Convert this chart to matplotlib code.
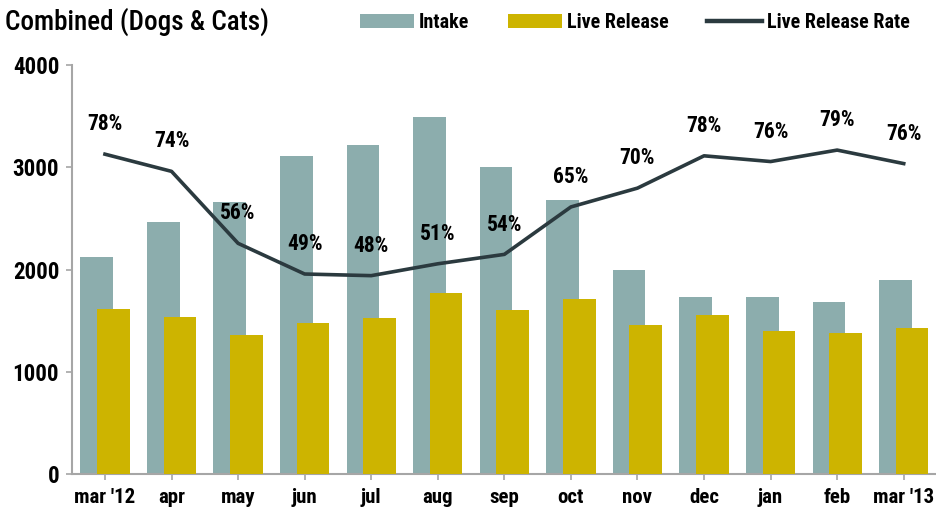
import numpy as np
import matplotlib
matplotlib.use('Agg')
import matplotlib.pyplot as plt
from matplotlib import font_manager

# monthly data
months = ["mar '12", 'apr', 'may', 'jun', 'jul', 'aug', 'sep',
          'oct', 'nov', 'dec', 'jan', 'feb', "mar '13"]
intake = [2125, 2460, 2660, 3110, 3215, 3490, 3000,
          2680, 1995, 1735, 1735, 1680, 1895]
live_release = [1615, 1535, 1355, 1478, 1530, 1775, 1605,
                1715, 1458, 1555, 1400, 1376, 1425]
release_rate = [78.2, 74.0, 56.4, 48.9, 48.5, 51.4, 53.7,
                65.3, 69.9, 77.8, 76.4, 79.2, 75.9]
yticks = [0, 1000, 2000, 3000, 4000]

intake_color = '#8cadad'
release_color = '#cdb400'
line_color = '#2b3a3f'
spine_color = '#a6a6a6'

# pick a condensed face, the original uses a narrow gothic
installed = set(f.name for f in font_manager.fontManager.ttflist)
font = 'DejaVu Sans'
for cand in ['Roboto Condensed', 'Barlow Semi Condensed', 'Barlow Condensed',
             'Liberation Sans Narrow', 'Archivo Narrow']:
    if cand in installed:
        font = cand
        break
plt.rcParams['font.family'] = [font, 'DejaVu Sans']

fig = plt.figure(figsize=(9.37, 5.14), dpi=100)
ax = fig.add_axes([0.0765, 0.0778, 0.9235, 0.7957])

x = np.arange(len(months))
bw = 0.49
b1 = ax.bar(x - 0.125, intake, width=bw, color=intake_color, label='Intake', zorder=2)
b2 = ax.bar(x + 0.125, live_release, width=bw, color=release_color, label='Live Release', zorder=3)

# rate drawn on the count scale (100% = 4000)
rate_y = np.array(release_rate) / 100 * 4000
ln, = ax.plot(x, rate_y, color=line_color, lw=2.6, label='Live Release Rate', zorder=4,
              solid_joinstyle='round')
for xi, yi, r in zip(x, rate_y, release_rate):
    ax.annotate(f'{round(r)}%', (xi, yi), xytext=(0, 21.5), textcoords='offset points',
                ha='center', va='center', fontsize=15.5, fontweight='bold', zorder=5)

ax.set_xlim(-0.5, len(months) - 0.5)
ax.set_ylim(0, 4000)
ax.set_yticks(yticks)
ax.set_xticks(x)
ax.set_xticklabels(months)

for s in ['top', 'right']:
    ax.spines[s].set_visible(False)
for s in ['left', 'bottom']:
    ax.spines[s].set_color(spine_color)
    ax.spines[s].set_linewidth(1.5)
ax.tick_params(axis='both', colors=spine_color, length=4, width=1.2,
               labelcolor='black', labelsize=15)
ax.tick_params(axis='x', pad=6)
ax.tick_params(axis='y', pad=5, labelsize=16.5)
for lbl in ax.get_xticklabels() + ax.get_yticklabels():
    lbl.set_fontweight('bold')

fig.text(0.005, 0.958, 'Combined (Dogs & Cats)', fontsize=19.5, ha='left', va='center',
         fontweight='medium')

leg = fig.legend([b1, b2, ln], ['Intake', 'Live Release', 'Live Release Rate'],
                 loc='center right', bbox_to_anchor=(0.99, 0.957), ncol=3, frameon=False,
                 handlelength=2.7, handleheight=0.7, handletextpad=0.25,
                 columnspacing=1.9, prop={'size': 14.5, 'weight': 'bold'})
for line in leg.get_lines():
    line.set_linewidth(3.2)

fig.savefig('out.png', dpi=100)
